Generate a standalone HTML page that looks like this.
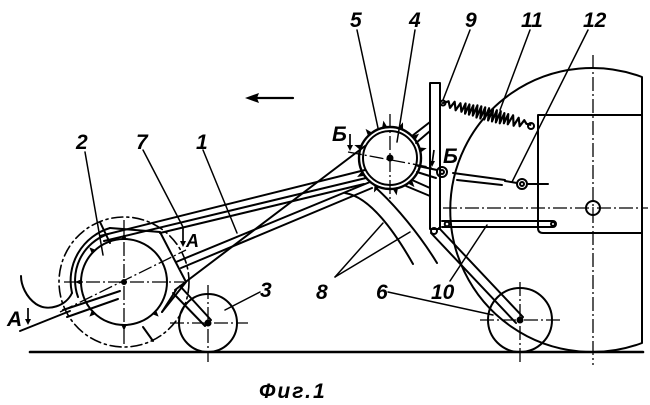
<!DOCTYPE html>
<html><head><meta charset="utf-8"><style>
html,body{margin:0;padding:0;background:#fff;}
svg{display:block;}
text{font-family:"Liberation Sans",sans-serif;font-style:italic;font-weight:bold;fill:#000;}
</style></head><body>
<svg width="650" height="405" viewBox="0 0 650 405" xmlns="http://www.w3.org/2000/svg">
<g fill="none" stroke="#000" stroke-width="2" stroke-linecap="round" stroke-linejoin="round">
<!-- ground -->
<line x1="30" y1="352" x2="643" y2="352" stroke-width="2.6"/>
<!-- big round body -->
<path d="M642 77 A142 142 0 1 0 642 343 Z"/>
<path d="M642 115 H538 V228 Q538 233 543 233 H642"/>
<circle cx="593" cy="208" r="7"/>
<!-- plate 9 -->
<rect x="430" y="83" width="10" height="146"/>
<circle cx="434" cy="231" r="3"/>
<!-- spring 11 -->
<g transform="translate(443,103) rotate(14)">
<polyline points="0,0 5,-3 8,3 11,-4 14,4 17,-4 20,4 22,-5 24,5 26,-5 28,5 30,-5 32,5 34,-6 36,6 38,-6 40,6 42,-6 44,6 46,-6 48,6 50,-6 52,6 54,-6 56,6 58,-6 60,6 62,-5 64,5 66,-5 68,5 71,-5 74,5 77,-4 80,4 83,-3 86,0 90,0" stroke-width="2.2"/>
</g>
<circle cx="443" cy="103" r="2.5"/>
<circle cx="531" cy="126" r="3"/>
<!-- lever 12 -->
<line x1="453" y1="173" x2="505" y2="180"/>
<line x1="457" y1="180" x2="502" y2="185"/>
<line x1="505" y1="181" x2="517" y2="183"/>
<circle cx="522" cy="184" r="5"/>
<circle cx="522" cy="184" r="2"/>
<line x1="527" y1="184" x2="548" y2="184"/>
<circle cx="442" cy="172" r="5"/>
<circle cx="442" cy="172" r="2"/>
<!-- rod 10 -->
<path d="M442 221 H553 A3 3 0 0 1 553 227 H442"/>
<circle cx="447" cy="224" r="2.3"/>
<circle cx="553" cy="224" r="2"/>
<!-- strut to wheel 6 -->
<line x1="431" y1="233" x2="516" y2="323"/>
<line x1="439" y1="228" x2="523" y2="317"/>
<!-- wheel 6 -->
<circle cx="520" cy="320" r="32"/>
<!-- wheel 3 -->
<circle cx="208" cy="323" r="29"/>
<line x1="173" y1="293" x2="205" y2="326"/>
<line x1="180" y1="286" x2="211" y2="320"/>
<!-- rake 2 -->
<circle cx="124" cy="282" r="43"/>
<circle cx="124" cy="282" r="65" stroke-dasharray="11 4 2 4" stroke-width="1.6"/>
<path d="M108 234 A49 49 0 0 0 78 297"/>
<path d="M110 228 A55 55 0 0 0 72 293"/>
<path d="M72 293 C66 306 48 312 36 304 C26 297 21 285 21 276"/>
<path d="M110 228 L160 232 L186 282 L162 312"/>
<line x1="100" y1="222" x2="110" y2="243"/>
<line x1="143" y1="327" x2="153" y2="341"/>
<line x1="20" y1="331" x2="70" y2="311"/>
<line x1="63" y1="310" x2="120" y2="291"/>
<line x1="67" y1="317" x2="118" y2="299"/>
<!-- frame 1 / 7 -->
<line x1="100" y1="236" x2="365" y2="170"/>
<line x1="104" y1="241" x2="366" y2="178"/>
<line x1="160" y1="233" x2="364" y2="184"/>
<line x1="176" y1="262" x2="370" y2="182"/>
<line x1="181" y1="268" x2="372" y2="188"/>
<line x1="175" y1="290" x2="365" y2="146"/>
<line x1="162" y1="312" x2="176" y2="290"/>
<!-- rotor 4 -->
<circle cx="390" cy="158" r="31" stroke-width="2.4"/>
<circle cx="390" cy="158" r="27"/>
<!-- links rotor to plate -->
<line x1="412" y1="136" x2="430" y2="122"/>
<line x1="416" y1="143" x2="430" y2="131"/>
<line x1="418" y1="166" x2="437" y2="170"/>
<line x1="417" y1="172" x2="436" y2="178"/>
<line x1="412" y1="180" x2="430" y2="188"/>
<line x1="406" y1="186" x2="430" y2="196"/>
<!-- arms 8 -->
<path d="M345 193 C365 196 388 220 413 264"/>
<path d="M376 188 C395 205 420 235 437 263"/>
<!-- leaders -->
<g stroke-width="1.5">
<line x1="85" y1="152" x2="103" y2="255"/>
<line x1="143" y1="150" x2="183" y2="227"/>
<line x1="203" y1="150" x2="237" y2="233"/>
<line x1="357" y1="30" x2="378" y2="128"/>
<line x1="415" y1="30" x2="397" y2="142"/>
<line x1="470" y1="30" x2="443" y2="100"/>
<line x1="530" y1="30" x2="500" y2="110"/>
<line x1="588" y1="30" x2="512" y2="182"/>
<line x1="260" y1="292" x2="225" y2="310"/>
<line x1="335" y1="277" x2="383" y2="223"/>
<line x1="335" y1="277" x2="410" y2="232"/>
<line x1="388" y1="292" x2="493" y2="315"/>
<line x1="450" y1="281" x2="487" y2="225"/>
</g>
<!-- direction arrow -->
<line x1="250" y1="98" x2="293" y2="98" stroke-width="2.2"/>
</g>
<path d="M245 98 L259 93 L257 98 L259 103 Z" fill="#000"/>
<!-- center lines -->
<g fill="none" stroke="#000" stroke-width="1.3" stroke-dasharray="14 3 2 3">
<line x1="593" y1="55" x2="593" y2="365"/>
<line x1="443" y1="208" x2="648" y2="208"/>
<line x1="64" y1="282" x2="184" y2="282"/>
<line x1="124" y1="220" x2="124" y2="347"/>
<line x1="60" y1="312" x2="186" y2="250"/>
<line x1="170" y1="323" x2="248" y2="323"/>
<line x1="208" y1="285" x2="208" y2="362"/>
<line x1="480" y1="320" x2="562" y2="320"/>
<line x1="520" y1="282" x2="520" y2="364"/>
<line x1="390" y1="114" x2="390" y2="202"/>
<line x1="348" y1="152" x2="434" y2="168"/>
</g>
<!-- hubs -->
<circle cx="124" cy="282" r="3" fill="#000"/>
<circle cx="208" cy="323" r="3.5" fill="#000"/>
<circle cx="520" cy="320" r="3.5" fill="#000"/>
<circle cx="390" cy="158" r="3.5" fill="#000"/>
<!-- rake teeth -->
<g fill="#000">
<g transform="translate(124,282) rotate(-90)"><path d="M42,-3 L49,0 L42,3Z"/></g>
<g transform="translate(124,282) rotate(-135)"><path d="M42,-3 L49,0 L42,3Z"/></g>
<g transform="translate(124,282) rotate(180)"><path d="M42,-3 L49,0 L42,3Z"/></g>
<g transform="translate(124,282) rotate(135)"><path d="M42,-3 L49,0 L42,3Z"/></g>
<g transform="translate(124,282) rotate(90)"><path d="M42,-3 L49,0 L42,3Z"/></g>
<g transform="translate(124,282) rotate(45)"><path d="M42,-3 L49,0 L42,3Z"/></g>
<!-- rotor teeth -->
<g transform="translate(390,158) rotate(-160)"><path d="M30,-3 L38,0 L30,3Z"/></g>
<g transform="translate(390,158) rotate(-130)"><path d="M30,-3 L38,0 L30,3Z"/></g>
<g transform="translate(390,158) rotate(-100)"><path d="M30,-3 L38,0 L30,3Z"/></g>
<g transform="translate(390,158) rotate(-70)"><path d="M30,-3 L38,0 L30,3Z"/></g>
<g transform="translate(390,158) rotate(-40)"><path d="M30,-3 L38,0 L30,3Z"/></g>
<g transform="translate(390,158) rotate(-15)"><path d="M30,-3 L38,0 L30,3Z"/></g>
<g transform="translate(390,158) rotate(50)"><path d="M30,-3 L38,0 L30,3Z"/></g>
<g transform="translate(390,158) rotate(80)"><path d="M30,-3 L38,0 L30,3Z"/></g>
<g transform="translate(390,158) rotate(115)"><path d="M30,-3 L38,0 L30,3Z"/></g>
<g transform="translate(390,158) rotate(150)"><path d="M30,-3 L38,0 L30,3Z"/></g>
</g>
<!-- section arrows -->
<g stroke="#000" stroke-width="1.7" fill="none">
<line x1="28" y1="308" x2="28" y2="322"/>
<line x1="183" y1="228" x2="183" y2="244"/>
<line x1="350" y1="134" x2="350" y2="148"/>
<line x1="434" y1="150" x2="432" y2="164"/>
</g>
<g fill="#000">
<path d="M25 319 L28 325 L31 319Z"/>
<path d="M180 241 L183 247 L186 241Z"/>
<path d="M347 145 L350 151 L353 145Z"/>
<path d="M429 161 L432 167 L435 161Z"/>
</g>
<!-- labels -->
<g font-size="21">
<text x="76" y="149">2</text>
<text x="136" y="149">7</text>
<text x="196" y="149">1</text>
<text x="350" y="27">5</text>
<text x="409" y="27">4</text>
<text x="465" y="27">9</text>
<text x="521" y="27">11</text>
<text x="583" y="27">12</text>
<text x="260" y="297">3</text>
<text x="316" y="299">8</text>
<text x="376" y="299">6</text>
<text x="431" y="299">10</text>
<text x="7" y="326">A</text>
<text x="186" y="247" font-size="18">A</text>
<text x="332" y="141">Б</text>
<text x="443" y="163">Б</text>
<text x="259" y="398" font-size="21" letter-spacing="2">Фиг.1</text>
</g>
</svg>
</body></html>
